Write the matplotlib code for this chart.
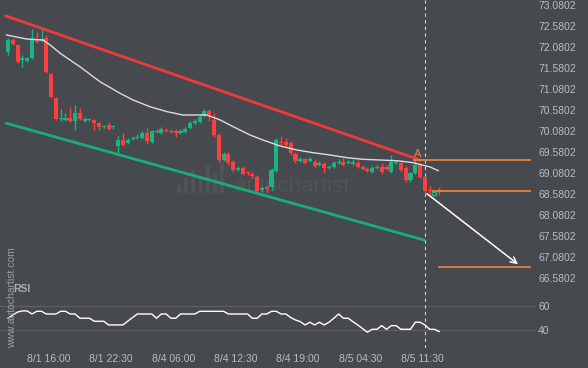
import matplotlib
matplotlib.use("Agg")
import matplotlib.pyplot as plt
from matplotlib.patches import Rectangle
import numpy as np

#----------------------CHART DATA------------------------
# 30 minute candles (open, high, low, close)
opens = [71.954, 72.240, 72.121, 71.763, 71.740, 71.811, 72.263, 72.216, 72.287, 71.430,
         70.859, 70.359, 70.335, 70.382, 70.311, 70.502, 70.311, 70.335, 70.335, 70.263,
         70.168, 70.216, 70.168, 69.716, 69.859, 69.787, 69.883, 69.906, 69.906, 70.025,
         69.811, 70.049, 70.025, 70.097, 70.073, 70.073, 70.025, 70.049, 70.144, 70.263,
         70.287, 70.430, 70.549, 70.335, 69.978, 69.382, 69.525, 69.335, 69.144, 69.192,
         69.097, 69.049, 68.978, 68.668, 68.740, 68.740, 69.121, 69.811, 69.811, 69.787,
         69.525, 69.359, 69.406, 69.359, 69.335, 69.263, 69.287, 69.192, 69.216, 69.311,
         69.335, 69.311, 69.287, 69.311, 69.216, 69.168, 69.097, 69.192, 69.216, 69.216,
         69.097, 69.311, 69.311, 69.192, 68.906, 69.073, 69.263, 68.978, 68.668, 68.549,
         68.668]
highs = [72.287, 72.287, 72.144, 71.883, 71.835, 72.502, 72.430, 72.502, 72.359, 71.454,
         70.882, 70.597, 70.502, 70.644, 70.692, 70.620, 70.406, 70.382, 70.359, 70.287,
         70.216, 70.287, 70.216, 69.954, 70.025, 69.906, 69.954, 70.002, 70.073, 70.144,
         70.097, 70.121, 70.168, 70.144, 70.121, 70.121, 70.121, 70.168, 70.311, 70.359,
         70.478, 70.597, 70.597, 70.502, 70.025, 69.573, 69.573, 69.382, 69.240, 69.240,
         69.121, 69.097, 69.025, 68.763, 68.787, 69.192, 69.906, 69.954, 69.906, 69.835,
         69.573, 69.454, 69.430, 69.454, 69.382, 69.359, 69.335, 69.263, 69.359, 69.406,
         69.430, 69.382, 69.406, 69.382, 69.263, 69.216, 69.240, 69.263, 69.311, 69.263,
         69.502, 69.382, 69.382, 69.240, 69.097, 69.382, 69.311, 69.002, 68.763, 68.668,
         68.740]
lows = [71.883, 72.121, 71.692, 71.597, 71.716, 71.787, 72.168, 72.192, 71.454, 70.859,
        70.335, 70.311, 70.311, 70.287, 70.097, 70.335, 70.287, 70.311, 70.097, 70.097,
        70.144, 70.097, 70.121, 69.549, 69.716, 69.763, 69.859, 69.883, 69.883, 69.763,
        69.787, 70.025, 70.002, 70.049, 70.025, 69.930, 70.002, 70.025, 70.121, 70.240,
        70.263, 70.406, 70.311, 69.930, 69.335, 69.359, 69.263, 69.097, 69.121, 69.025,
        69.025, 68.954, 68.597, 68.620, 68.597, 68.668, 69.097, 69.740, 69.692, 69.502,
        69.311, 69.335, 69.287, 69.335, 69.192, 69.240, 69.073, 69.168, 69.192, 69.287,
        69.240, 69.287, 69.263, 69.192, 69.144, 69.097, 69.073, 69.168, 69.049, 69.144,
        69.073, 69.287, 69.097, 68.859, 68.859, 69.049, 68.954, 68.597, 68.502, 68.525,
        68.549]
closes = [72.240, 72.144, 71.716, 71.811, 71.811, 72.263, 72.192, 72.263, 71.478, 70.882,
          70.359, 70.382, 70.382, 70.311, 70.502, 70.359, 70.359, 70.359, 70.263, 70.168,
          70.192, 70.121, 70.192, 69.859, 69.740, 69.859, 69.906, 69.930, 70.025, 69.835,
          70.073, 70.073, 70.121, 70.073, 70.049, 70.025, 70.073, 70.121, 70.263, 70.311,
          70.406, 70.549, 70.454, 69.978, 69.382, 69.525, 69.311, 69.144, 69.192, 69.049,
          69.073, 69.002, 68.644, 68.716, 68.692, 69.144, 69.859, 69.787, 69.740, 69.549,
          69.359, 69.406, 69.311, 69.406, 69.240, 69.311, 69.192, 69.216, 69.311, 69.335,
          69.263, 69.335, 69.335, 69.216, 69.168, 69.121, 69.192, 69.216, 69.097, 69.168,
          69.335, 69.335, 69.144, 68.906, 69.073, 69.263, 68.978, 68.644, 68.644, 68.620,
          68.620]

rsi = [49.9, 52.5, 55.0, 55.9, 55.9, 53.4, 55.6, 55.6, 53.4, 53.4,
       53.4, 55.6, 55.6, 53.4, 53.4, 49.9, 49.9, 49.9, 47.4, 47.4,
       47.4, 44.4, 44.4, 44.4, 44.4, 47.5, 50.5, 53.4, 53.4, 53.4,
       53.4, 49.9, 53.4, 53.4, 49.9, 49.9, 53.4, 53.4, 53.4, 53.4,
       55.6, 55.6, 55.6, 55.6, 55.6, 55.6, 53.4, 53.4, 53.4, 53.4,
       53.4, 49.9, 49.9, 53.4, 53.4, 55.6, 55.6, 53.4, 53.4, 50.5,
       48.5, 47.1, 44.4, 46.6, 44.4, 46.6, 44.4, 46.6, 49.9, 53.4,
       49.9, 49.9, 47.0, 44.4, 41.4, 38.4, 40.8, 40.8, 43.8, 40.8,
       43.8, 43.8, 40.8, 40.8, 40.8, 46.6, 46.6, 44.4, 40.8, 40.8,
       38.9]

# moving average, read at a few candle positions
ma_idx = [-0.3, 3.9, 7.3, 8.8, 10.9, 15, 19.2, 23.4, 26.1, 29.6, 33.2, 36.5, 41.5, 44.3,
          47, 50.5, 53.2, 56.8, 60.3, 63.7, 67.2, 70.8, 74.1, 77.7, 81.2, 84.6, 88.1, 89.8]
ma_val = [72.359, 72.263, 72.240, 72.121, 71.923, 71.604, 71.247, 70.970, 70.811, 70.652,
          70.533, 70.454, 70.454, 70.335, 70.176, 69.978, 69.859, 69.716, 69.621, 69.556,
          69.502, 69.437, 69.399, 69.382, 69.366, 69.318, 69.216, 69.128]

# channel lines (start, end)
resist_idx = [-0.4, 86.0]
resist_val = [72.811, 69.382]
support_idx = [-0.3, 86.8]
support_val = [70.256, 67.478]

pattern_level = 69.38
last_price = 68.637
forecast_level = 66.835
arrow_start = (87, 68.62)
arrow_end = (106.9, 66.86)

tick_pos = [8.5, 21.5, 34.5, 47.5, 60.5, 73.5, 86.5]
tick_labels = ["8/1 16:00", "8/1 22:30", "8/4 06:00", "8/4 12:30", "8/4 19:00", "8/5 04:30", "8/5 11:30"]
price_ticks = [66.5802 + 0.5 * k for k in range(14)]
rsi_ticks = [40, 60]
now_idx = 87

#----------------------STYLE------------------------
bg = "#464a4f"
up_col = "#17b680"
down_col = "#ff3e3e"
red_line = "#f03a3a"
green_line = "#19ad7b"
orange = "#f5843f"
text_col = "#b9bcc0"
mark_col = "#505459"
plt.rcParams['font.family'] = ['Liberation Sans', 'DejaVu Sans']


def style_axis(ax):
    ax.set_facecolor(bg)
    for s in ax.spines.values():
        s.set_visible(False)
    ax.yaxis.tick_right()
    ax.tick_params(axis='y', length=0, pad=1.5, labelsize=7.5, colors=text_col)
    ax.tick_params(axis='x', length=0, pad=4, labelsize=7.5, colors=text_col)
    ax.set_xlim(-1.67, 110.2)


def draw_candles(ax):
    x = np.arange(len(opens))
    o = np.array(opens)
    c = np.array(closes)
    up = c >= o
    cols = np.where(up, up_col, down_col)
    ax.vlines(x, lows, highs, colors=cols, linewidth=1, zorder=3)
    bottom = np.minimum(o, c)
    height = np.maximum(np.abs(c - o), 0.022)
    ax.bar(x[:-2], height[:-2], bottom=bottom[:-2], width=0.85, color=cols[:-2], zorder=4)
    # second last candle drawn hollow, last candle filled
    ax.bar(x[-2], height[-2], bottom=bottom[-2], width=0.85, facecolor=bg,
           edgecolor=cols[-2], linewidth=1, zorder=4)
    ax.bar(x[-1], height[-1], bottom=bottom[-1], width=0.85, color=cols[-1], zorder=4)


def main():
    fig = plt.figure(figsize=(5.88, 3.68), dpi=100, facecolor=bg)
    ax = fig.add_axes([0, 85 / 368, 536 / 588, 283 / 368])
    ax_rsi = fig.add_axes([0, 20 / 368, 536 / 588, 65 / 368], sharex=ax)
    style_axis(ax)
    style_axis(ax_rsi)

    # watermark
    ax.text(0.545, 0.34, "autochartist", transform=ax.transAxes, fontsize=16,
            color=mark_col, ha="center", va="center", zorder=1)
    logo_h = [0.025, 0.05, 0.08, 0.06, 0.095, 0.07, 0.11]
    for k, h in enumerate(logo_h):
        ax.add_patch(Rectangle((0.33 + k * 0.0135, 0.32), 0.005, h, transform=ax.transAxes,
                               color=mark_col, zorder=1))

    ax.plot(ma_idx, ma_val, color="#dcdcdc", linewidth=1.0, zorder=5)
    ax.plot(resist_idx, resist_val, color=red_line, linewidth=2, zorder=5)
    ax.plot(support_idx, support_val, color=green_line, linewidth=2, zorder=5)
    draw_candles(ax)

    ax.hlines(pattern_level, 84.6, 109.2, color=orange, linewidth=1.2, zorder=6)
    ax.hlines(last_price, 88.5, 109.2, color=orange, linewidth=1.2, zorder=6)
    ax.hlines(forecast_level, 89.8, 109.2, color=orange, linewidth=1.2, zorder=6)
    ax.text(85.5, 69.52, "A", color="#e88a4c", fontsize=8, ha="center", va="center", zorder=7)
    ax.annotate("", xy=arrow_end, xytext=arrow_start,
                arrowprops=dict(arrowstyle="->", color="white", lw=1.1, mutation_scale=11),
                zorder=7)

    ax.set_ylim(66.454, 73.192)
    ax.set_yticks(price_ticks)
    ax.set_yticklabels(["%.4f" % p for p in price_ticks])
    ax.tick_params(axis='x', labelbottom=False)

    for a in (ax, ax_rsi):
        a.axvline(now_idx, color="#d0d0d0", linewidth=0.8, dashes=(3, 3), zorder=2)

    # RSI panel
    for lvl in rsi_ticks:
        ax_rsi.axhline(lvl, color="#5d6065", linewidth=0.9, zorder=1)
    ax_rsi.plot(np.arange(len(rsi)), rsi, color="white", linewidth=1, zorder=3)
    ax_rsi.set_ylim(25.4, 78.9)
    ax_rsi.set_yticks(rsi_ticks)
    ax_rsi.set_yticklabels([str(v) for v in rsi_ticks])
    ax_rsi.set_xticks(tick_pos)
    ax_rsi.set_xticklabels(tick_labels)
    ax_rsi.text(0.025, 0.9, "RSI", transform=ax_rsi.transAxes, fontsize=7.5,
                fontweight="bold", color="#a9acb0", va="center")

    fig.text(12 / 588, 20 / 368, "www.autochartist.com", rotation=90, fontsize=7.5,
             color="#9a9da1", ha="center", va="bottom")

    fig.savefig("out.png", dpi=100, facecolor=bg)


main()
